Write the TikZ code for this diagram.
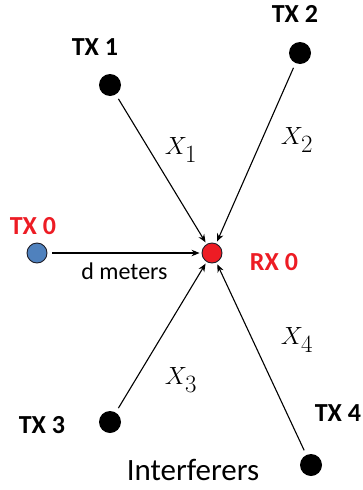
\documentclass[tikz,border=0pt]{standalone}
\usepackage{fontspec}
\setmainfont{Carlito}
\usetikzlibrary{arrows.meta}
\definecolor{rxred}{RGB}{237,28,36}
\definecolor{txblue}{RGB}{79,129,189}
\definecolor{dotline}{RGB}{30,30,40}

\begin{document}
\begin{tikzpicture}[x=1pt, y=-1pt, >={Stealth[length=8pt, width=6.5pt]}]
  \useasboundingbox (0,0) rectangle (362,490);
  \tikzset{
    txdot/.style={circle, fill=black, inner sep=0pt, minimum size=22pt},
    txlabel/.style={font=\fontsize{26}{28}\selectfont\bfseries},
    link/.style={->, line width=1.1pt, shorten <=5pt, shorten >=2pt},
    chan/.style={font=\fontsize{33}{35}\selectfont}
  }
  % receiver and the wanted transmitter
  \node[circle, draw=dotline, fill=rxred, line width=0.9pt, inner sep=0pt, minimum size=20pt] (rx0) at (212,253) {};
  \node[rxred, txlabel] at (274,262) {RX 0};
  \node[circle, draw=dotline, fill=txblue, line width=0.9pt, inner sep=0pt, minimum size=20pt] (tx0) at (37,253) {};
  \node[rxred, txlabel] at (33,226) {TX 0};
  % interfering transmitters
  \node[txdot] (tx1) at (110,85) {};
  \node[txlabel] at (95,47) {TX 1};
  \node[txdot] (tx2) at (300,53) {};
  \node[txlabel] at (295,14) {TX 2};
  \node[txdot] (tx3) at (110,422) {};
  \node[txlabel] at (42,425) {TX 3};
  \node[txdot] (tx4) at (311,465) {};
  \node[txlabel] at (338,413) {TX 4};
  % links into the receiver
  \draw[link] (tx0) -- node[below=6pt, font=\fontsize{24}{26}\selectfont]{d meters} (rx0);
  \draw[link] (tx1) -- (rx0);
  \draw[link] (tx2) -- (rx0);
  \draw[link] (tx3) -- (rx0);
  \draw[link] (tx4) -- (rx0);
  \node[chan] at (181,150) {$X_1$};
  \node[chan] at (297,140) {$X_2$};
  \node[chan] at (181,380) {$X_3$};
  \node[chan] at (297,340) {$X_4$};
  \node[font=\fontsize{31}{33}\selectfont] at (193,470) {Interferers};
\end{tikzpicture}
\end{document}
